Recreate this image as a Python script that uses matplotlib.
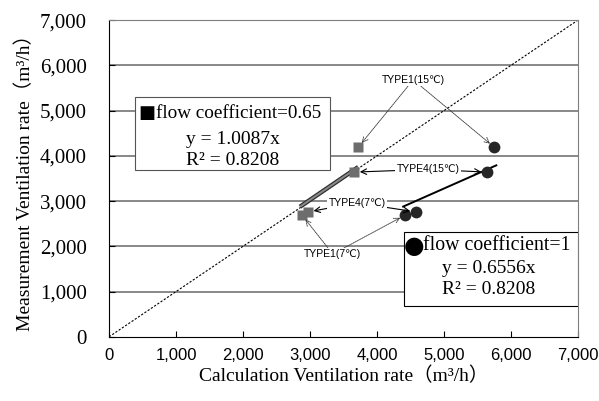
import matplotlib
matplotlib.use("Agg")
import matplotlib.pyplot as plt
import numpy as np
from matplotlib.patches import Rectangle

labels = ["TYPE1(7℃)", "TYPE4(7℃)", "TYPE4(15℃)", "TYPE1(15℃)"]
calc_c1 = [4420, 4580, 5640, 5750]
measured = [2690, 2760, 3640, 4190]
calc_c065 = [2880, 2970, 3660, 3720]
slope_c065 = 1.0087
slope_c1 = 0.6556
r2_text = "0.8208"
ticks = [0, 1000, 2000, 3000, 4000, 5000, 6000, 7000]

serif = ['Liberation Serif', 'DejaVu Serif']
sans = ['Liberation Sans', 'DejaVu Sans']

fig = plt.figure(figsize=(5.99, 4.01), dpi=100)
ax = fig.add_axes([0.182, 0.160, 0.783, 0.790])
ax.set_xlim(0, 7000)
ax.set_ylim(0, 7000)

for t in ticks[1:]:
    ax.axhline(t, color='#7f7f7f', lw=1.3, zorder=0)

ax.plot([0, 7000], [0, 7000], ls=(0, (2, 1.5)), color='black', lw=0.8, zorder=1)

# trendlines
xs = np.array([min(calc_c065) - 30, max(calc_c065)])
ax.plot(xs, slope_c065 * xs, color='#303030', lw=3.2, zorder=2, solid_capstyle='butt')
ax.plot(xs, slope_c065 * xs, color='#8a8a8a', lw=1.4, zorder=2, solid_capstyle='butt')
xc = np.array([min(calc_c1) - 30, max(calc_c1) + 30])
ax.plot(xc, slope_c1 * xc, color='black', lw=1.4, zorder=2)

ax.plot(calc_c065, measured, 's', color='#6d6d6d', ms=7.5, zorder=3, mec='none')
ax.plot(calc_c1, measured, 'o', color='#262626', ms=8.5, zorder=3, mec='none')

ax.set_xticks(ticks)
ax.set_yticks(ticks)
ax.set_xticklabels([f"{t:,}" for t in ticks], family=sans, fontsize=12)
ax.set_yticklabels([f"{t:,}" for t in ticks], family=serif, fontsize=15)
for lbl in ax.get_yticklabels():
    lbl.set_fontfamily(serif)
ax.tick_params(axis='both', direction='in', length=4, width=0.8, color='black')
ax.tick_params(axis='x', pad=8)
ax.tick_params(axis='y', pad=16)
for s in ['top', 'right']:
    ax.spines[s].set_color('#7f7f7f')
for s in ['left', 'bottom']:
    ax.spines[s].set_color('black')

lab_font = ['Liberation Serif', 'Noto Sans CJK JP']
ax.set_xlabel("Calculation Ventilation rate（m³/h）", family=lab_font, fontsize=14, labelpad=3)
ax.set_ylabel("Measurement Ventilation rate（m³/h）", family=lab_font, fontsize=14, labelpad=4)

# annotations
ann_style = dict(fontsize=7.5, family=sans, ha='center', va='center', zorder=5)
dotted = dict(arrowstyle='->', lw=0.6, ls=(0, (1.5, 1)), color='#333333', shrinkA=0, shrinkB=4)
solid = dict(arrowstyle='->', lw=0.8, color='black', shrinkA=0, shrinkB=4)

def label(text, xy_text, targets, style):
    ax.text(*xy_text, text, bbox=dict(fc='white', ec='none', pad=1), **ann_style)
    for tgt in targets:
        ax.annotate('', xy=tgt, xytext=xy_text, arrowprops=style, zorder=4)

label(labels[3], (4540, 5680), [(calc_c065[3], measured[3]), (calc_c1[3], measured[3])], dotted)
label(labels[2], (4760, 3700), [(calc_c065[2], measured[2]), (calc_c1[2], measured[2])], solid)
label(labels[1], (3700, 2960), [(calc_c065[1], measured[1]), (calc_c1[1], measured[1])], solid)
label(labels[0], (3340, 1830), [(calc_c065[0], measured[0]), (calc_c1[0], measured[0])], dotted)

# text boxes
b1 = Rectangle((390, 3690), 2910, 1610, fc='white', ec='#555555', lw=0.8, zorder=6)
ax.add_patch(b1)
ax.text(440, 4945, "■", family=['DejaVu Sans'], fontsize=13, va='center', ha='left', zorder=7)
ax.text(700, 4945, "flow coefficient=0.65", family=serif, fontsize=13.8, va='center', ha='left', zorder=7)
ax.text(1850, 4350, f"y = {slope_c065}x", family=serif, fontsize=14, va='center', ha='center', zorder=7)
ax.text(1850, 3907, f"R² = {r2_text}", family=serif, fontsize=14, va='center', ha='center', zorder=7)

b2 = Rectangle((4400, 680), 2600, 1640, fc='white', ec='black', lw=0.8, zorder=6)
ax.add_patch(b2)
ax.text(4400, 2010, "●", family=['DejaVu Sans'], fontsize=17, va='center', ha='left', zorder=7)
ax.text(4690, 2010, "flow coefficient=1", family=serif, fontsize=14.3, va='center', ha='left', zorder=7)
ax.text(5660, 1520, f"y = {slope_c1}x", family=serif, fontsize=14, va='center', ha='center', zorder=7)
ax.text(5660, 1040, f"R² = {r2_text}", family=serif, fontsize=14, va='center', ha='center', zorder=7)

fig.savefig("out.png", dpi=100)
